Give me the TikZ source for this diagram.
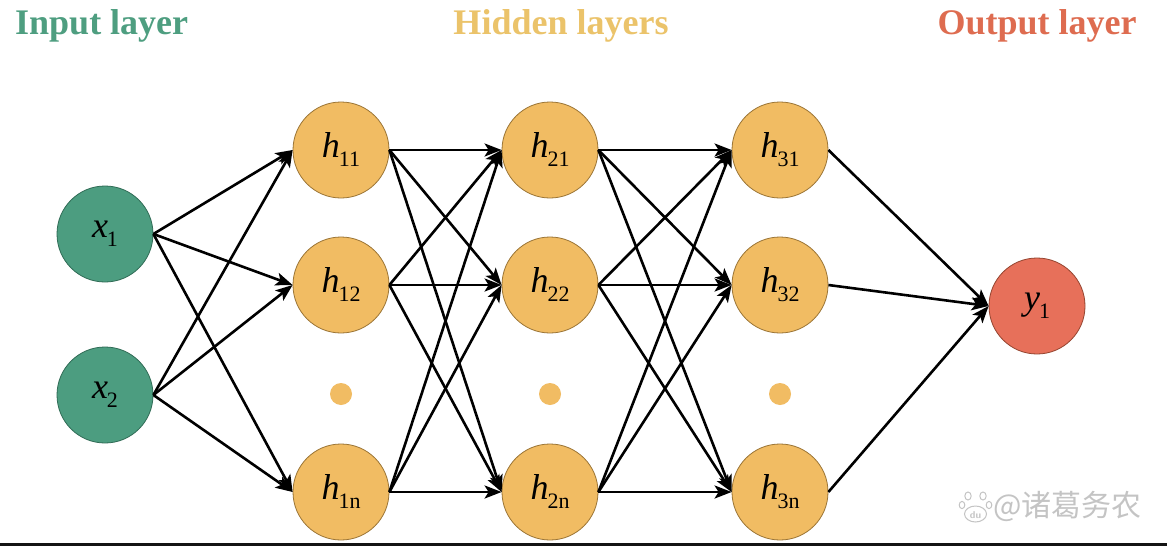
\documentclass[tikz,border=0pt]{standalone}
\usepackage{fontspec}
\setmainfont{Liberation Serif}
\newfontfamily\cjk{Noto Sans CJK SC}
\usetikzlibrary{arrows.meta}
\definecolor{ingreen}{HTML}{4C9D80}
\definecolor{ingreenD}{HTML}{2F6B55}
\definecolor{hidorange}{HTML}{F1BC63}
\definecolor{hidorangeD}{HTML}{9A7435}
\definecolor{outred}{HTML}{E7705A}
\definecolor{outredD}{HTML}{94442F}
\definecolor{titgreen}{HTML}{4E9E80}
\definecolor{titorange}{HTML}{EBC36A}
\definecolor{titred}{HTML}{DE6C50}
\definecolor{wmgray}{HTML}{C4C4C4}
\newcommand\nlab[2]{{\fontsize{36}{36}\selectfont\textit{#1}\kern-1pt\raisebox{-0.25em}{\fontsize{22}{22}\selectfont #2}}}
\tikzset{
  neuron/.style={circle, minimum size=96pt, inner sep=0pt, line width=0.8pt},
  innode/.style={neuron, fill=ingreen, draw=ingreenD},
  hidnode/.style={neuron, fill=hidorange, draw=hidorangeD},
  outnode/.style={neuron, fill=outred, draw=outredD},
  vdot/.style={circle, fill=hidorange, minimum size=22pt, inner sep=0pt},
  conn/.style={line width=2.6pt, -{Stealth[length=17pt,width=13pt,inset=4pt]}},
  title/.style={font=\fontsize{36}{36}\selectfont\bfseries, inner sep=0pt}
}
\begin{document}
\begin{tikzpicture}[x=1pt,y=-1pt]
\useasboundingbox (0,0) rectangle (1167,546);
\fill[white] (0,0) rectangle (1167,546);
% titles
\node[title, text=titgreen, anchor=west] (tin) at (15,26) {Input layer};
\node[title, text=titorange] (thid) at (561,26) {Hidden layers};
\node[title, text=titred] (tout) at (1037,26) {Output layer};
% input
\node[innode] (x1) at (105,234) {\nlab{x}{1}};
\node[innode] (x2) at (105,395) {\nlab{x}{2}};
% hidden 1
\node[hidnode] (h11) at (341,150) {\nlab{h}{11}};
\node[hidnode] (h12) at (341,285) {\nlab{h}{12}};
\node[vdot] (d1) at (341,394) {};
\node[hidnode] (h1n) at (341,492) {\nlab{h}{1n}};
% hidden 2
\node[hidnode] (h21) at (550,150) {\nlab{h}{21}};
\node[hidnode] (h22) at (550,285) {\nlab{h}{22}};
\node[vdot] (d2) at (550,394) {};
\node[hidnode] (h2n) at (550,492) {\nlab{h}{2n}};
% hidden 3
\node[hidnode] (h31) at (780,150) {\nlab{h}{31}};
\node[hidnode] (h32) at (780,285) {\nlab{h}{32}};
\node[vdot] (d3) at (780,394) {};
\node[hidnode] (h3n) at (780,492) {\nlab{h}{3n}};
% output
\node[outnode] (y1) at (1037,306) {\nlab{y}{1}};
% connections
\foreach \s in {x1,x2}
  \foreach \t in {h11,h12,h1n}
    \draw[conn] (\s.east) -- (\t.west);
\foreach \s in {h11,h12,h1n}
  \foreach \t in {h21,h22,h2n}
    \draw[conn] (\s.east) -- (\t.west);
\foreach \s in {h21,h22,h2n}
  \foreach \t in {h31,h32,h3n}
    \draw[conn] (\s.east) -- (\t.west);
\foreach \s in {h31,h32,h3n}
  \draw[conn] (\s.east) -- (y1.west);
% watermark
\begin{scope}[wmgray, line width=1pt]
  \draw (968,496) ellipse (3.2pt and 4pt);
  \draw (983,496) ellipse (3.2pt and 4pt);
  \draw (962,505) ellipse (2.8pt and 3.6pt);
  \draw (989,505) ellipse (2.8pt and 3.6pt);
  \draw (975.5,514) ellipse (11pt and 8pt);
  \node[font=\sffamily\bfseries\fontsize{10}{10}\selectfont, text=wmgray, inner sep=0pt] (du) at (975.5,515) {du};
\end{scope}
\node[font=\cjk\fontsize{30}{30}\selectfont, text=wmgray, anchor=west, inner sep=0pt] (wm) at (993,506) {@诸葛务农};
% bottom bar
\fill[black!92] (0,543) rectangle (1167,546);
\end{tikzpicture}
\end{document}
